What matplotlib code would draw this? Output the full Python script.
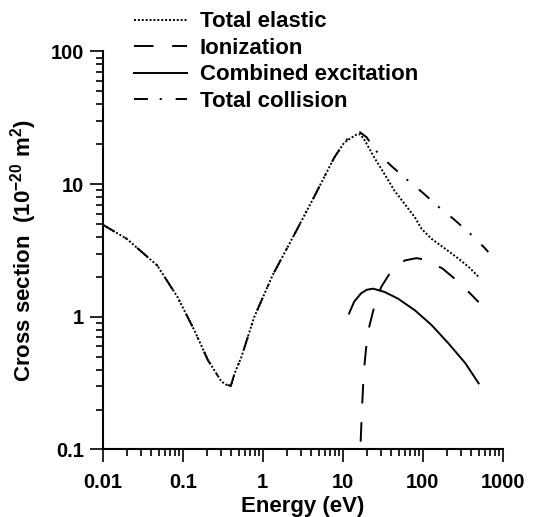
import numpy as np
import matplotlib

matplotlib.use("Agg")
import matplotlib.pyplot as plt
from matplotlib.ticker import LogLocator, FixedLocator, NullFormatter

plt.rcParams["font.family"] = ["Liberation Sans", "DejaVu Sans"]
plt.rcParams["font.weight"] = "bold"
plt.rcParams["mathtext.fontset"] = "custom"
plt.rcParams["mathtext.bf"] = "Liberation Sans:bold"
plt.rcParams["mathtext.rm"] = "Liberation Sans:bold"
plt.rcParams["mathtext.default"] = "bf"
plt.rcParams["lines.scale_dashes"] = False

# energies in eV, cross sections in 1e-20 m^2
e_elastic = [0.01, 0.02, 0.048, 0.086, 0.14, 0.206, 0.304, 0.35, 0.40, 0.446,
             0.543, 0.78, 1.33, 2.5, 4.35, 7.8, 10.4, 12.0, 14.6, 16.5, 18.6,
             24.9, 33.3, 44.5, 59.6, 79.8, 96.8, 129, 191, 281, 377, 500]
s_elastic = [4.95, 3.87, 2.44, 1.41, 0.79, 0.473, 0.326, 0.308, 0.302, 0.376,
             0.50, 0.99, 2.06, 4.2, 7.94, 15.8, 20.5, 21.8, 23.5, 23.8, 21.7,
             15.8, 11.9, 8.9, 7.08, 5.62, 4.60, 3.87, 3.26, 2.74, 2.37, 2.0]

e_total = [0.01, 0.02, 0.048, 0.086, 0.14, 0.206, 0.304, 0.35, 0.40, 0.446,
           0.543, 0.78, 1.33, 2.5, 4.35, 7.8, 10.4, 12.0, 14.6, 16.5, 20.0,
           24.9, 40.6, 62.7, 102, 157, 250, 394, 596, 660]
s_total = [4.95, 3.87, 2.44, 1.41, 0.79, 0.473, 0.326, 0.308, 0.302, 0.376,
           0.50, 0.99, 2.06, 4.2, 7.94, 15.8, 20.5, 22.6, 24.6, 24.6, 22.5,
           18.3, 13.7, 10.9, 8.53, 6.76, 5.38, 4.22, 3.30, 3.08]

e_ion = [15.8, 16.2, 16.6, 17.4, 18.3, 19.6, 21.2, 24.5, 30.3, 39.6, 59.6,
         83.7, 108.6, 177, 281, 414, 500]
s_ion = [0.02, 0.06, 0.10, 0.20, 0.38, 0.58, 0.82, 1.16, 1.68, 2.17, 2.66,
         2.77, 2.69, 2.31, 1.83, 1.45, 1.29]

e_exc = [12.0, 13.9, 16.9, 20.0, 24.0, 33.3, 49.2, 79.8, 129, 210, 341, 500]
s_exc = [1.06, 1.30, 1.50, 1.60, 1.63, 1.54, 1.37, 1.12, 0.867, 0.63, 0.447,
         0.315]

labels = ["Total elastic", "Ionization", "Combined excitation",
          "Total collision"]
xticks = [0.01, 0.1, 1, 10, 100, 1000]
xticklabels = ["0.01", "0.1", "1", "10", "100", "1000"]
yticks = [0.1, 1, 10, 100]
yticklabels = ["0.1", "1", "10", "100"]

fig = plt.figure(figsize=(5.33, 5.17), dpi=100)
ax = fig.add_axes([0.1927, 0.1306, 0.7505, 0.7698])

lw = 1.4
l_el, = ax.plot(e_elastic, s_elastic, color="k", lw=lw, dashes=(1.4, 1.4))
l_ion, = ax.plot(e_ion, s_ion, color="k", lw=lw, dashes=(14, 13.5))
l_exc, = ax.plot(e_exc, s_exc, color="k", lw=lw, ls="-")
l_tot, = ax.plot(e_total, s_total, color="k", lw=lw,
                 dashes=(10, 8.5, 1.5, 10))

ax.set_xscale("log")
ax.set_yscale("log")
ax.set_xlim(0.01, 1000)
ax.set_ylim(0.1, 100)

for side in ["top", "right"]:
    ax.spines[side].set_visible(False)
for side in ["left", "bottom"]:
    ax.spines[side].set_linewidth(1.5)

ax.xaxis.set_major_locator(FixedLocator(xticks))
ax.yaxis.set_major_locator(FixedLocator(yticks))
ax.xaxis.set_minor_locator(LogLocator(base=10, subs=np.arange(2, 10), numticks=20))
ax.yaxis.set_minor_locator(LogLocator(base=10, subs=np.arange(2, 10), numticks=20))
ax.xaxis.set_minor_formatter(NullFormatter())
ax.yaxis.set_minor_formatter(NullFormatter())
ax.set_xticklabels(xticklabels)
ax.set_yticklabels(yticklabels)

ax.tick_params(which="major", direction="out", length=9.7, width=1.2,
               labelsize=14.5)
ax.tick_params(axis="x", which="major", pad=7)
ax.tick_params(axis="y", which="major", pad=4)
ax.tick_params(which="minor", direction="out", length=5, width=1.2)
for lab in ax.get_xticklabels() + ax.get_yticklabels():
    lab.set_fontweight("bold")

ax.set_xlabel("Energy (eV)", fontsize=16, fontweight="bold", labelpad=3)
ax.set_ylabel("Cross section  (10$^{-20}$ m$^{2}$)", fontsize=16,
              fontweight="bold", labelpad=8.5)

fig.legend([l_el, l_ion, l_exc, l_tot], labels, loc="upper left",
           bbox_to_anchor=(0.2514, 0.978), frameon=False, borderpad=0,
           borderaxespad=0, handlelength=2.37, handletextpad=0.6,
           labelspacing=0.25, prop={"size": 16, "weight": "bold"})

fig.savefig("out.png", dpi=100)
